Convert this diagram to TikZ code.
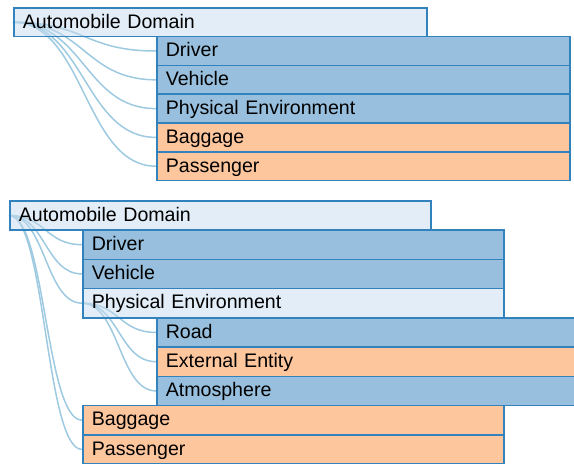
\documentclass[tikz,border=0pt]{standalone}
\usepackage{fontspec}
\setmainfont{Liberation Sans}
\usetikzlibrary{calc}
\usetikzlibrary{backgrounds}
\definecolor{openfill}{HTML}{C6DBEF}
\definecolor{shutfill}{HTML}{3182BD}
\definecolor{leaffill}{HTML}{FD8D3C}
\definecolor{boxline}{HTML}{3182BD}
\definecolor{linkline}{HTML}{9ECAE1}
\tikzset{
    box/.style = {rectangle, draw=boxline, line width=1.6pt, fill opacity=0.5, text opacity=1,
                  anchor=north west, inner xsep=9pt, inner ysep=0pt, align=left,
                  text height=14pt, text depth=2.4pt, font=\fontsize{19.6}{22}\selectfont},
    rowa/.style = {box, minimum height=28.8pt, text width=395pt}, % upper tree
    rowb/.style = {box, minimum height=29.25pt, text width=403pt}, % lower tree
    openbox/.style = {fill=openfill},
    shutbox/.style = {fill=shutfill},
    leafbox/.style = {fill=leaffill},
    link/.style = {draw=linkline, line width=1.5pt,
        to path={let \p1=(\tikztostart), \p2=(\tikztotarget) in
            .. controls ({0.5*\x1+0.5*\x2},\y1) and ({0.5*\x1+0.5*\x2},\y2) .. (\tikztotarget)}}
}
\begin{document}
\begin{tikzpicture}[x=1pt,y=-1pt]
\useasboundingbox (0,0) rectangle (574,464);
%
\node[rowa,openbox] at (13, 7) (dom) {Automobile Domain};
\node[rowa,shutbox] at (156, 35.8) (drv) {Driver};
\node[rowa,shutbox] at (156, 64.6) (veh) {Vehicle};
\node[rowa,shutbox] at (156, 93.4) (env) {Physical Environment};
\node[rowa,leafbox] at (156, 122.2) (bag) {Baggage};
\node[rowa,leafbox] at (156, 151.0) (pas) {Passenger};
%
\node[rowb,openbox] at (9, 200) (domb) {Automobile Domain};
\node[rowb,shutbox] at (82, 229.25) (drvb) {Driver};
\node[rowb,shutbox] at (82, 258.5) (vehb) {Vehicle};
\node[rowb,openbox] at (82, 287.75) (envb) {Physical Environment};
\node[rowb,shutbox] at (156, 317) (road) {Road};
\node[rowb,leafbox] at (156, 346.25) (ext) {External Entity};
\node[rowb,shutbox] at (156, 375.5) (atm) {Atmosphere};
\node[rowb,leafbox] at (82, 404.75) (bagb) {Baggage};
\node[rowb,leafbox] at (82, 434) (pasb) {Passenger};
%
\begin{scope}[on background layer]
\draw[link] (dom.west) to (drv.west);
\draw[link] (dom.west) to (veh.west);
\draw[link] (dom.west) to (env.west);
\draw[link] (dom.west) to (bag.west);
\draw[link] (dom.west) to (pas.west);
%
\draw[link] (domb.west) to (drvb.west);
\draw[link] (domb.west) to (vehb.west);
\draw[link] (domb.west) to (envb.west);
\draw[link] (domb.west) to (bagb.west);
\draw[link] (domb.west) to (pasb.west);
\draw[link] (envb.west) to (road.west);
\draw[link] (envb.west) to (ext.west);
\draw[link] (envb.west) to (atm.west);
\end{scope}
\end{tikzpicture}
\end{document}
